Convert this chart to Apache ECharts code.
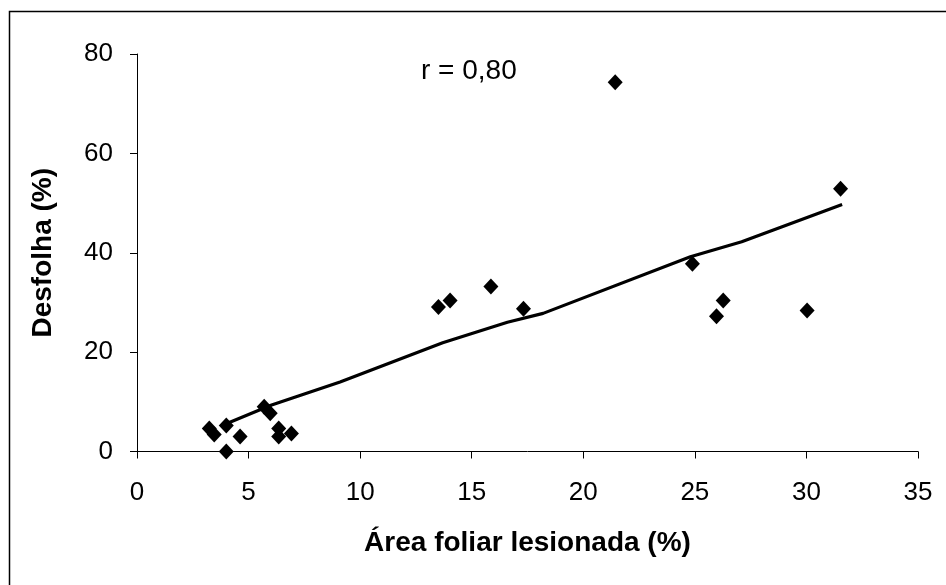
<!DOCTYPE html>
<html>
<head>
<meta charset="utf-8">
<script src="https://cdn.jsdelivr.net/npm/echarts@6/dist/echarts.min.js"></script>
<style>html,body{margin:0;padding:0;background:#fff;}#c{width:946px;height:585px;}</style>
</head>
<body>
<div id="c"></div>
<script>
// Data
const areaFoliar = [3.24, 3.46, 4.0, 4.0, 4.62, 5.7, 5.97, 6.35, 6.35, 6.92, 13.51, 14.03, 15.86, 17.32, 21.43, 24.89, 25.97, 26.27, 30.03, 31.53];
const desfolha   = [4.65, 3.4, 5.25, 0.0, 3.0, 9.0, 7.7, 4.65, 3.0, 3.6, 29.1, 30.4, 33.2, 28.75, 74.3, 37.8, 27.2, 30.4, 28.4, 52.9];
const trendX = [4.0, 6.0, 9.1, 13.7, 16.6, 18.2, 24.8, 27.1, 31.6];
const trendY = [5.6, 9.3, 14.0, 21.9, 26.0, 27.8, 39.2, 42.2, 49.7];
const xTicks = [0, 5, 10, 15, 20, 25, 30, 35];
const yTicks = [0, 20, 40, 60, 80];
const xTitle = 'Área foliar lesionada (%)';
const yTitle = 'Desfolha (%)';
const rLabel = 'r = 0,80';

const chart = echarts.init(document.getElementById('c'), null, {renderer: 'canvas'});
const font = 'Arial, "Liberation Sans", sans-serif';
const axisCommon = {
  axisLine: {show: true, onZero: false, lineStyle: {color: '#000', width: 1}},
  axisTick: {show: true, inside: false, length: 7, lineStyle: {color: '#000', width: 1}},
  splitLine: {show: false},
  nameLocation: 'middle',
  nameTextStyle: {color: '#000', fontFamily: font, fontWeight: 'bold', fontSize: 28},
  axisLabel: {color: '#000', fontFamily: font, fontSize: 26}
};
chart.setOption({
  animation: false,
  backgroundColor: '#fff',
  grid: {left: 137, right: 28, top: 54, bottom: 133.5, containLabel: false},
  xAxis: Object.assign({}, axisCommon, {
    type: 'value', min: xTicks[0], max: xTicks[xTicks.length - 1], interval: 5,
    name: xTitle, nameGap: 78,
    axisLabel: Object.assign({}, axisCommon.axisLabel, {margin: 28})
  }),
  yAxis: Object.assign({}, axisCommon, {
    type: 'value', min: yTicks[0], max: yTicks[yTicks.length - 1], interval: 20,
    name: yTitle, nameGap: 80, nameRotate: 90,
    axisLabel: Object.assign({}, axisCommon.axisLabel, {margin: 24})
  }),
  graphic: [
    {type: 'rect', left: 7, top: 9, z: -1, silent: true,
     shape: {width: 960, height: 600}, style: {fill: 'none', stroke: '#000', lineWidth: 1.5}},
    {type: 'text', left: 421, top: 57, silent: true,
     style: {text: rLabel, font: '28px ' + font, fill: '#000'}}
  ],
  series: [
    {type: 'line', data: trendX.map((x, i) => [x, trendY[i]]), showSymbol: false, symbol: 'none',
     lineStyle: {color: '#000', width: 3.2}, z: 2},
    {type: 'scatter', data: areaFoliar.map((x, i) => [x, desfolha[i]]), symbol: 'diamond',
     symbolSize: [15, 16], itemStyle: {color: '#000', opacity: 1}, z: 3}
  ]
});
</script>
</body>
</html>
